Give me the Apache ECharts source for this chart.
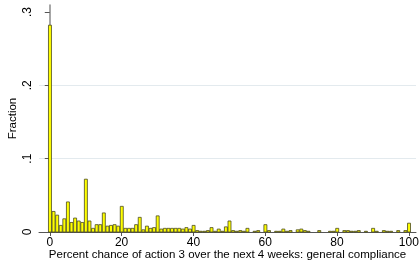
<!DOCTYPE html>
<html>
<head>
<meta charset="utf-8">
<script src="https://cdn.jsdelivr.net/npm/echarts@6/dist/echarts.min.js"></script>
<style>
html, body { margin: 0; padding: 0; background: #fff; }
#chart { width: 420px; height: 262px; }
</style>
</head>
<body>
<div id="chart"></div>
<script>
// bin start values 0..100 (width 1)
var bins = [];
for (var i = 0; i <= 100; i++) { bins.push(i); }

// fraction per bin
var fractions = [
    0.282, 0.028, 0.023, 0.009, 0.018, 0.041, 0.013, 0.019, 0.015, 0.013,
    0.072, 0.015, 0.005, 0.010, 0.010, 0.026, 0.008, 0.009, 0.010, 0.008,
    0.035, 0.005, 0.005, 0.005, 0.010, 0.020, 0.003, 0.008, 0.005, 0.006,
    0.022, 0.004, 0.005, 0.005, 0.005, 0.005, 0.005, 0.004, 0.006, 0.004,
    0.009, 0.002, 0.001, 0.001, 0.002, 0.006, 0.001, 0.004, 0.001, 0.007,
    0.015, 0.002, 0.001, 0.002, 0.001, 0.005, 0, 0.001, 0.002, 0,
    0.010, 0.002, 0, 0.001, 0.001, 0.004, 0.001, 0.002, 0, 0.003,
    0.004, 0.002, 0.001, 0, 0, 0.002, 0, 0, 0.001, 0.001,
    0.005, 0, 0.002, 0.002, 0.001, 0.001, 0.002, 0, 0.001, 0,
    0.005, 0.001, 0, 0.002, 0.001, 0.001, 0, 0.002, 0, 0.002,
    0.012
];

var xTicks = [0, 20, 40, 60, 80, 100];
var yTicks = [0, 0.1, 0.2, 0.3];
var yLabels = ['0', '.1', '.2', '.3'];

var data = [];
for (var k = 0; k < bins.length; k++) {
    if (fractions[k] > 0) data.push([bins[k], fractions[k]]);
}

var chart = echarts.init(document.getElementById('chart'));
var font = 'Liberation Sans, Arial, sans-serif';

chart.setOption({
    animation: false,
    grid: { left: 39, right: 4, top: 5, bottom: 30, containLabel: false, outerBoundsMode: 'none' },
    xAxis: {
        type: 'value',
        min: -3,
        max: 102,
        name: 'Percent chance of action 3 over the next 4 weeks: general compliance',
        nameLocation: 'middle',
        nameGap: 17,
        nameMoveOverlap: false,
        nameTextStyle: { fontFamily: font, fontSize: 11.5, color: '#000' },
        axisLine: { show: true, onZero: false, lineStyle: { color: '#555', width: 1 } },
        axisTick: { show: true, length: 4, customValues: xTicks, lineStyle: { color: '#555' } },
        axisLabel: { customValues: xTicks, margin: 5, fontFamily: font, fontSize: 12, color: '#000' },
        splitLine: { show: false }
    },
    yAxis: {
        type: 'value',
        min: 0,
        max: 0.3095,
        interval: 0.1,
        name: 'Fraction',
        nameLocation: 'middle',
        nameRotate: 90,
        nameGap: 20,
        nameMoveOverlap: false,
        nameTextStyle: { fontFamily: font, fontSize: 11.5, color: '#000' },
        axisLine: { show: true, lineStyle: { color: '#888', width: 1.5 } },
        axisTick: { show: true, length: 5, customValues: yTicks, lineStyle: { color: '#555' } },
        axisLabel: {
            customValues: yTicks,
            rotate: 90,
            margin: 5,
            fontFamily: font,
            fontSize: 12,
            color: '#000',
            formatter: function (v) {
                var idx = yTicks.indexOf(Math.round(v * 10) / 10);
                return idx >= 0 ? yLabels[idx] : '';
            }
        },
        splitLine: { show: true, showMinLine: false, showMaxLine: false, lineStyle: { color: '#e3eaee', width: 1 } }
    },
    series: [{
        type: 'custom',
        renderItem: function (params, api) {
            var x = api.value(0);
            var y = api.value(1);
            var p0 = api.coord([x - 0.5, 0]);
            var p1 = api.coord([x + 0.5, y]);
            return {
                type: 'rect',
                shape: { x: p0[0] + 0.5, y: p1[1], width: p1[0] - p0[0] - 0.6, height: p0[1] - p1[1] },
                style: { fill: '#ffff00', stroke: '#4a4a20', lineWidth: 0.8 }
            };
        },
        encode: { x: 0, y: 1 },
        data: data
    }]
});
</script>
</body>
</html>
